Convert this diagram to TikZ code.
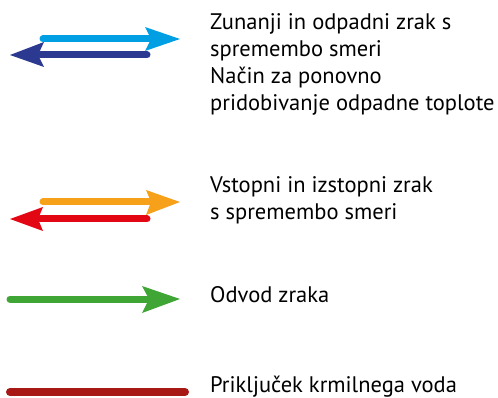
\documentclass[tikz,border=0pt]{standalone}
\usepackage{fontspec}
\setmainfont{PT Sans}
\definecolor{lblue}{HTML}{009FE3}
\definecolor{dblue}{HTML}{2B3990}
\definecolor{lorange}{HTML}{F7A11A}
\definecolor{lred}{HTML}{E30613}
\definecolor{lgreen}{HTML}{3FA535}
\definecolor{dred}{HTML}{A81815}
\begin{document}
\begin{tikzpicture}[x=1pt,y=-1pt,
  shaft/.style={line width=7pt, line cap=round},
  lbl/.style={anchor=base west, inner sep=0pt, align=left, font=\fontsize{22.5}{27}\selectfont}]
\useasboundingbox (0,0) rectangle (498,398);
% light blue right
\draw[shaft, lblue] (43,39) -- (150,39);
\fill[lblue] (180,39) -- (145,27) -- (151,39) -- (145,51) -- cycle;
% dark blue left
\draw[shaft, dblue] (40,55) -- (147,55);
\fill[dblue] (10,55) -- (44,42) -- (38,55) -- (44,67) -- cycle;
% orange right
\draw[shaft, lorange] (43,202) -- (150,202);
\fill[lorange] (180,202) -- (146,190) -- (151,202) -- (146,215) -- cycle;
% red left
\draw[shaft, lred] (40,219) -- (147,219);
\fill[lred] (10,219) -- (43,207) -- (38,219) -- (43,231) -- cycle;
% green right
\draw[shaft, lgreen] (10,299) -- (150,299);
\fill[lgreen] (180,299) -- (142,286) -- (149,299) -- (142,313) -- cycle;
% dark red line
\draw[line width=8pt, line cap=round, dred] (10,392) -- (185,392);
% labels (base anchor = last line's baseline)
\node[lbl] (t1) at (210,111) {Zunanji in odpadni zrak s\\spremembo smeri\\Način za ponovno\\pridobivanje odpadne toplote};
\node[lbl] (t2) at (210,220) {Vstopni in izstopni zrak\\s spremembo smeri};
\node[lbl] (t3) at (210,302) {Odvod zraka};
\node[lbl] (t4) at (210,392) {Priključek krmilnega voda};
\end{tikzpicture}
\end{document}
